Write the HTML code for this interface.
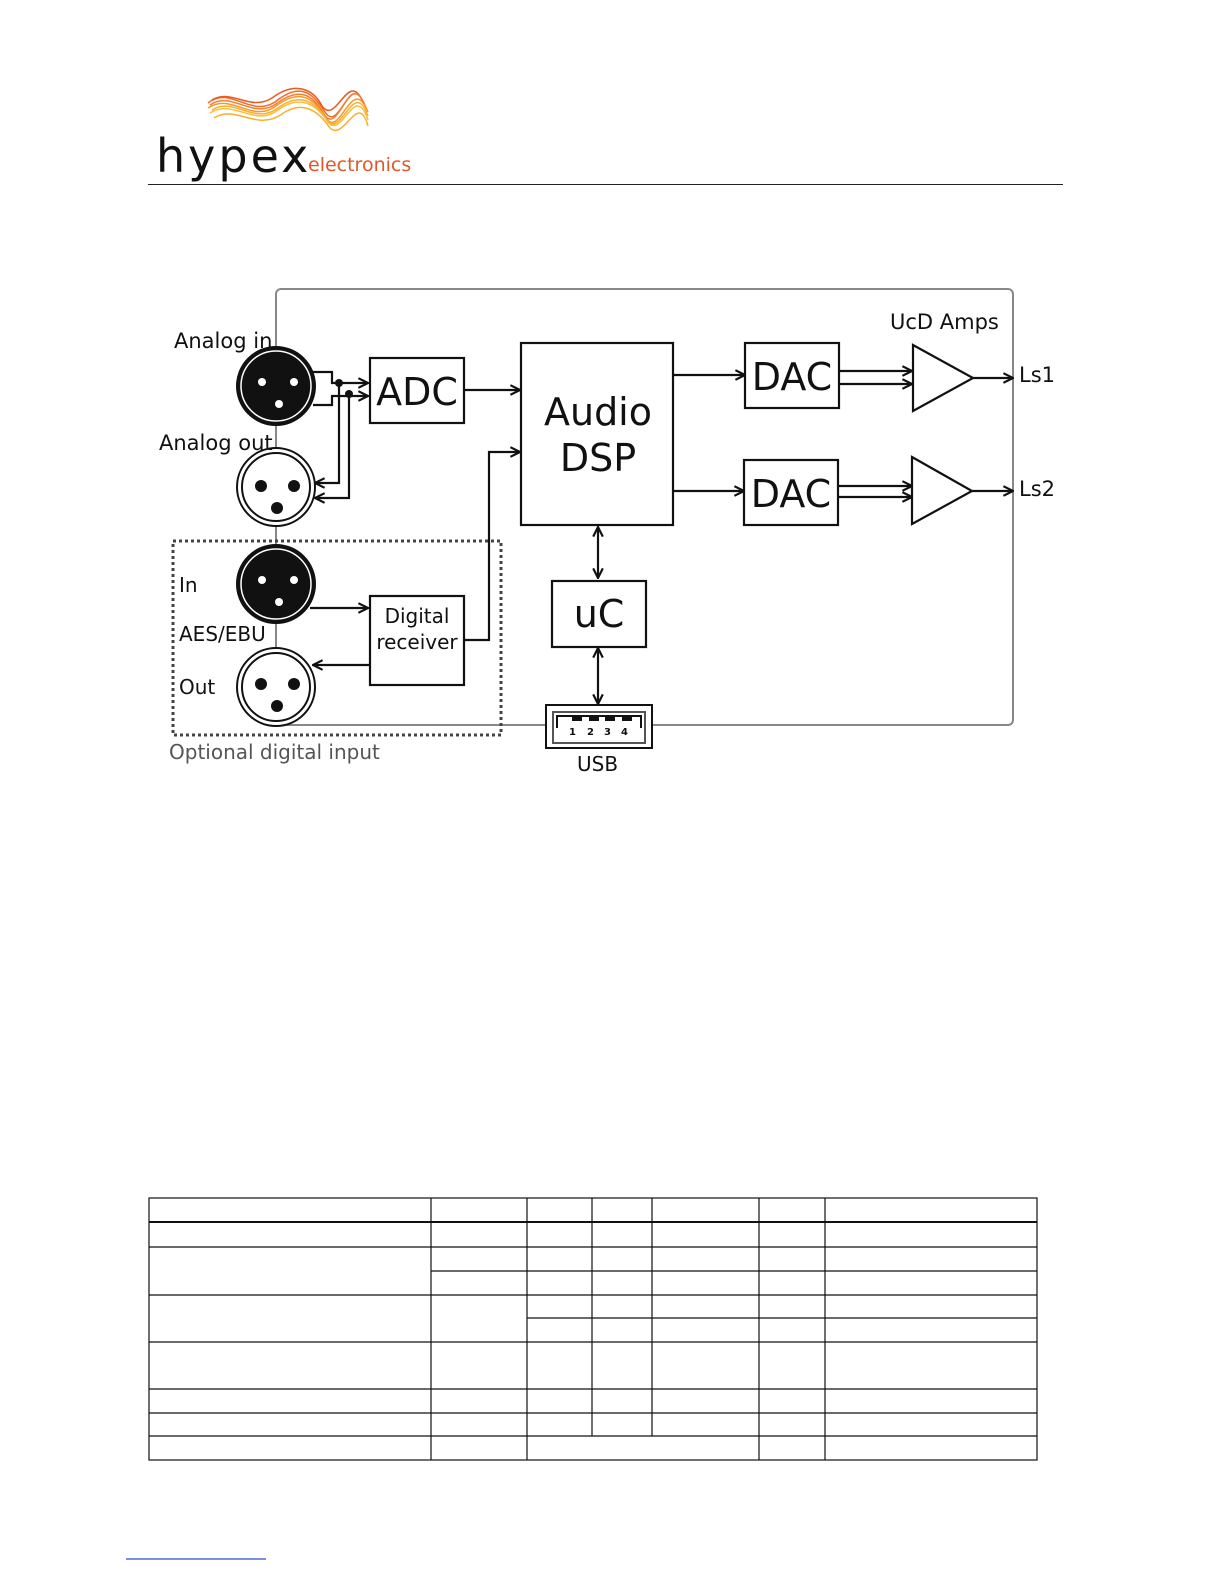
<!DOCTYPE html>
<html><head><meta charset="utf-8"><style>
html,body{margin:0;padding:0;background:#fff;overflow:hidden;width:1224px;height:1584px;}
svg{display:block;}
svg text{font-family:"DejaVu Sans","Liberation Sans",sans-serif;}
</style></head><body>
<svg width="1224" height="1584" viewBox="0 0 1224 1584" xmlns="http://www.w3.org/2000/svg">
<defs>
<marker id="a" viewBox="0 0 10 10" refX="9" refY="5" markerWidth="12" markerHeight="12" markerUnits="userSpaceOnUse" orient="auto-start-reverse">
<path d="M1,1 L9,5 L1,9" fill="none" stroke="#111" stroke-width="1.8"/></marker>
</defs>
<!-- logo -->
<g fill="none" stroke-width="1.5">
<path d="M208,103 C230,85 250,118 275,102 C300,82 312,92 325,112 C340,135 350,65 366,108" stroke="#f06a2a"/>
<path d="M208,108 C232,92 252,124 276,106 C300,88 314,98 326,118 C340,140 352,72 368,112" stroke="#f39a2a"/>
<path d="M210,113 C234,98 254,128 278,110 C300,94 316,104 328,122 C342,140 355,80 368,120" stroke="#f7c03a"/>
<path d="M212,100 C232,88 250,112 272,98 C296,80 314,90 322,106 C336,126 348,70 362,100" stroke="#ec5a20"/>
<path d="M214,118 C236,104 256,132 282,114 C302,100 318,110 330,128 C344,142 358,90 368,126" stroke="#f8b030"/>
<path d="M210,105 C232,90 252,120 276,104 C300,86 313,95 324,114 C338,138 350,68 364,104" stroke="#f28030"/>
<path d="M212,110 C234,96 254,126 278,108 C300,92 315,101 327,120 C341,140 354,76 368,116" stroke="#f5b035"/>
</g>
<text x="156" y="172" font-size="46" fill="#111" letter-spacing="3">hypex</text>
<text x="308" y="171" font-size="19" fill="#e2572a">electronics</text>
<line x1="148" y1="184.5" x2="1063" y2="184.5" stroke="#222" stroke-width="1"/>

<rect x="276" y="289" width="737" height="436" rx="5" fill="none" stroke="#888" stroke-width="2"/>
<rect x="173" y="541" width="328" height="194" fill="none" stroke="#444" stroke-width="3" stroke-dasharray="3,3"/>
<g stroke="#111">
<circle cx="276" cy="386" r="39" fill="#111" stroke-width="2"/><circle cx="276" cy="386" r="35" fill="#111" stroke="#fff" stroke-width="1.5"/>
<circle cx="276" cy="487" r="39" fill="#fff" stroke-width="2"/><circle cx="276" cy="487" r="34" fill="none" stroke-width="2"/>
<circle cx="276" cy="584" r="39" fill="#111" stroke-width="2"/><circle cx="276" cy="584" r="35" fill="#111" stroke="#fff" stroke-width="1.5"/>
<circle cx="276" cy="687" r="39" fill="#fff" stroke-width="2"/><circle cx="276" cy="687" r="34" fill="none" stroke-width="2"/>
</g>
<g fill="#fff"><circle cx="262" cy="382" r="4"/><circle cx="294" cy="382" r="4"/><circle cx="279" cy="404" r="4"/>
<circle cx="262" cy="580" r="4"/><circle cx="294" cy="580" r="4"/><circle cx="279" cy="602" r="4"/></g>
<g fill="#111"><circle cx="261" cy="486" r="6"/><circle cx="294" cy="486" r="6"/><circle cx="277" cy="508" r="6"/>
<circle cx="261" cy="684" r="6"/><circle cx="294" cy="684" r="6"/><circle cx="277" cy="706" r="6"/></g>
<g fill="none" stroke="#111" stroke-width="2.2">
<path d="M313,372 H332 V383 H368" marker-end="url(#a)"/>
<path d="M313,405 H332 V396 H368" marker-end="url(#a)"/>
<path d="M339,383 V483 H315" marker-end="url(#a)"/>
<path d="M349,394 V498 H315" marker-end="url(#a)"/>
<path d="M464,390 H520" marker-end="url(#a)"/>
<path d="M464,640 H489 V452 H520" marker-end="url(#a)"/>
<path d="M310,608 H368" marker-end="url(#a)"/>
<path d="M370,665 H313" marker-end="url(#a)"/>
<path d="M674,375 H745" marker-end="url(#a)"/>
<path d="M674,491 H744" marker-end="url(#a)"/>
<path d="M839,371 H912" marker-end="url(#a)"/>
<path d="M839,384 H912" marker-end="url(#a)"/>
<path d="M839,486 H912" marker-end="url(#a)"/>
<path d="M839,497 H912" marker-end="url(#a)"/>
<path d="M973,378 H1013" marker-end="url(#a)"/>
<path d="M972,491 H1013" marker-end="url(#a)"/>
<path d="M598,527 V578" marker-start="url(#a)" marker-end="url(#a)"/>
<path d="M598,648 V704" marker-start="url(#a)" marker-end="url(#a)"/>
<rect x="370" y="358" width="94" height="65"/>
<rect x="521" y="343" width="152" height="182"/>
<rect x="745" y="343" width="94" height="65"/>
<rect x="744" y="460" width="94" height="65"/>
<rect x="552" y="581" width="94" height="66"/>
<rect x="370" y="596" width="94" height="89"/>
<path d="M913,345 L973,378 L913,411 Z"/>
<path d="M912,457 L972,491 L912,524 Z"/>
</g>
<circle cx="339" cy="383" r="4" fill="#111"/><circle cx="349" cy="394" r="4" fill="#111"/>
<rect x="546" y="705" width="106" height="43" fill="#fff" stroke="#111" stroke-width="2"/>
<rect x="553" y="712" width="92" height="31" fill="none" stroke="#555" stroke-width="2"/>
<path d="M557,728 V716 H641 V728" fill="none" stroke="#111" stroke-width="2"/>
<g fill="#111"><rect x="572" y="716" width="10" height="5"/><rect x="589" y="716" width="10" height="5"/><rect x="605" y="716" width="10" height="5"/><rect x="622" y="716" width="10" height="5"/></g>
<g font-size="10" fill="#111" font-weight="bold"><text x="569" y="735">1</text><text x="587" y="735">2</text><text x="604" y="735">3</text><text x="621" y="735">4</text></g>
<g fill="#111">
<text x="174" y="348" font-size="21">Analog in</text>
<text x="159" y="450" font-size="21">Analog out</text>
<text x="179" y="592" font-size="20">In</text>
<text x="179" y="641" font-size="20">AES/EBU</text>
<text x="179" y="694" font-size="20">Out</text>
<text x="169" y="759" font-size="20" fill="#555">Optional digital input</text>
<text x="577" y="771" font-size="20">USB</text>
<text x="417" y="405" font-size="38" text-anchor="middle">ADC</text>
<text x="598" y="425" font-size="38" text-anchor="middle">Audio</text>
<text x="598" y="471" font-size="38" text-anchor="middle">DSP</text>
<text x="792" y="390" font-size="38" text-anchor="middle">DAC</text>
<text x="791" y="507" font-size="38" text-anchor="middle">DAC</text>
<text x="599" y="627" font-size="38" text-anchor="middle">uC</text>
<text x="417" y="623" font-size="20" text-anchor="middle">Digital</text>
<text x="417" y="649" font-size="20" text-anchor="middle">receiver</text>
<text x="890" y="329" font-size="21">UcD Amps</text>
<text x="1019" y="382" font-size="21">Ls1</text>
<text x="1019" y="496" font-size="21">Ls2</text>
</g>
<g stroke="#111" stroke-width="1.2" fill="none">
<rect x="149" y="1198" width="888" height="262"/>
<line x1="149" y1="1222" x2="1037" y2="1222" stroke-width="2"/>
<line x1="149" y1="1247" x2="1037" y2="1247"/>
<line x1="431" y1="1271" x2="1037" y2="1271"/>
<line x1="149" y1="1295" x2="1037" y2="1295"/>
<line x1="527" y1="1318" x2="1037" y2="1318"/>
<line x1="149" y1="1342" x2="1037" y2="1342"/>
<line x1="149" y1="1389" x2="1037" y2="1389"/>
<line x1="149" y1="1413" x2="1037" y2="1413"/>
<line x1="149" y1="1436" x2="1037" y2="1436"/>
<line x1="431" y1="1198" x2="431" y2="1460"/>
<line x1="527" y1="1198" x2="527" y2="1460"/>
<line x1="592" y1="1198" x2="592" y2="1436"/>
<line x1="652" y1="1198" x2="652" y2="1436"/>
<line x1="759" y1="1198" x2="759" y2="1460"/>
<line x1="825" y1="1198" x2="825" y2="1460"/>
</g>
<line x1="126" y1="1559" x2="266" y2="1559" stroke="#2a4fd0" stroke-width="1.2"/>
</svg>
</body></html>
